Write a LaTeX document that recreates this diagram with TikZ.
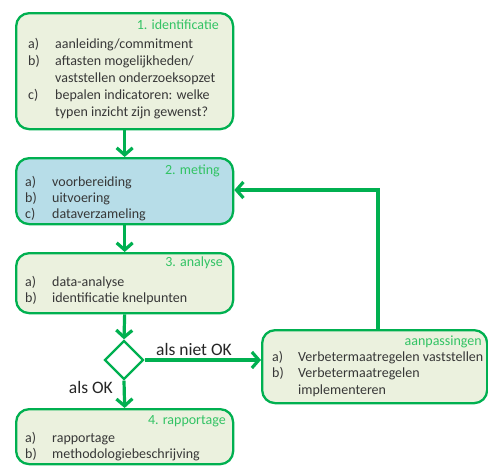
\documentclass[tikz,border=0pt]{standalone}
\usepackage{fontspec}
\setmainfont{Carlito}
\usetikzlibrary{arrows.meta,shapes.geometric}
\definecolor{gline}{RGB}{0,176,80}
\definecolor{gfill}{RGB}{235,241,222}
\definecolor{bfill}{RGB}{183,221,232}
\definecolor{gtitle}{RGB}{50,195,100}
\definecolor{txt}{RGB}{55,55,55}
\begin{document}
\begin{tikzpicture}[x=1pt,y=-1pt,
  box/.style={draw=gline, line width=2.3pt, rounded corners=13pt, fill=gfill, inner sep=0pt, anchor=north west},
  bluebox/.style={box, fill=bfill},
  title/.style={text=gtitle, font=\fontsize{14}{17}\selectfont, inner sep=0pt, anchor=base east},
  body/.style={text=txt, inner sep=0pt, anchor=base west},
  lbl/.style={text=black!85, font=\fontsize{17.5}{20}\selectfont, inner sep=0pt},
  arr/.style={draw=gline, line width=3.2pt, -{Straight Barb[length=7pt,width=16pt]}},
  dec/.style={draw=gline, line width=2.3pt, fill=white, diamond, minimum width=39pt, minimum height=39pt, inner sep=0pt}
]
\useasboundingbox (0,0) rectangle (488,466);

% boxes
\node[box, minimum width=217pt, minimum height=116pt] (b1) at (15,12) {};
\node[bluebox, minimum width=217pt, minimum height=66pt] (b2) at (15,157) {};
\node[box, minimum width=217pt, minimum height=60pt] (b3) at (15,252) {};
\node[box, minimum width=217pt, minimum height=55pt] (b4) at (15,408) {};
\node[box, minimum width=225pt, minimum height=73pt] (aan) at (261,329) {};
\node[dec] (d) at (124,360) {};

% titles
\node[title] (h1) at (219,29) {1. identificatie};
\node[title] (h2) at (220,174) {2. meting};
\node[title] (h3) at (223,266) {3. analyse};
\node[title] (h4) at (226,424) {4. rapportage};
\node[title] (h5) at (482,345) {aanpassingen};

% bodies
\node[body, font=\fontsize{14}{17}\selectfont] (t1) at (28,48) {\begin{tabular}[t]{@{}p{27pt}@{}l@{}}
a) & aanleiding/commitment\\
b) & aftasten mogelijkheden/\\
   & vaststellen onderzoeksopzet\\
c) & bepalen indicatoren: welke\\
   & typen inzicht zijn gewenst?
\end{tabular}};
\node[body, font=\fontsize{14}{16}\selectfont] (t2) at (25,186) {\begin{tabular}[t]{@{}p{27pt}@{}l@{}}
a) & voorbereiding\\
b) & uitvoering\\
c) & dataverzameling
\end{tabular}};
\node[body, font=\fontsize{14}{16}\selectfont] (t3) at (25,286) {\begin{tabular}[t]{@{}p{27pt}@{}l@{}}
a) & data-analyse\\
b) & identificatie knelpunten
\end{tabular}};
\node[body, font=\fontsize{14}{16}\selectfont] (t4) at (25,442) {\begin{tabular}[t]{@{}p{27pt}@{}l@{}}
a) & rapportage\\
b) & methodologiebeschrijving
\end{tabular}};
\node[body, font=\fontsize{14}{16.5}\selectfont] (t5) at (272,361) {\begin{tabular}[t]{@{}p{26pt}@{}l@{}}
a) & Verbetermaatregelen vaststellen\\
b) & Verbetermaatregelen\\
   & implementeren
\end{tabular}};

% labels
\node[lbl, anchor=base west] (lno) at (156,355) {als niet OK};
\node[lbl, anchor=base east] (lok) at (113,393) {als OK};

% connectors
\draw[arr] (b1.south) -- (b2.north);
\draw[arr] (b2.south) -- (b3.north);
\draw[arr] (b3.south) -- (d.north);
\draw[arr] (d.south) -- (b4.north);
\draw[arr] (d.east) -- (aan.west |- d.east);
\coordinate (fb) at (378,190);
\draw[arr] (aan.north -| fb) |- (b2.east |- fb);
\end{tikzpicture}
\end{document}
